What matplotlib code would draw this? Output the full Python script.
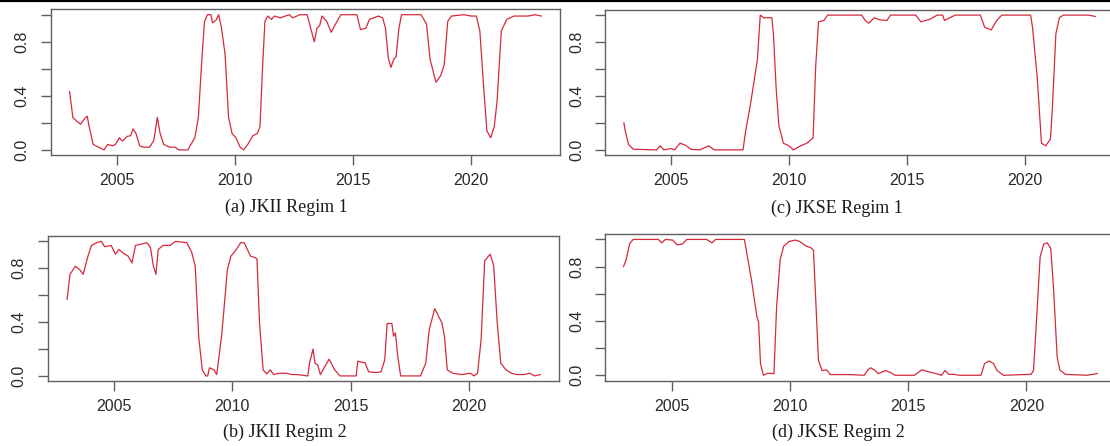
import matplotlib
matplotlib.use("Agg")
import matplotlib.pyplot as plt
from matplotlib.lines import Line2D

# ---------------- data ----------------
jkii_r1_year = [2003.0, 2003.14, 2003.32, 2003.47, 2003.63, 2003.75, 2003.82, 2004.0, 2004.23, 2004.46,
                2004.61, 2004.83, 2004.94, 2005.11, 2005.24, 2005.44, 2005.59, 2005.69, 2005.82, 2005.97,
                2006.12, 2006.39, 2006.57, 2006.72, 2006.84, 2006.99, 2007.25, 2007.48, 2007.63, 2008.01,
                2008.16, 2008.31, 2008.46, 2008.61, 2008.72, 2008.84, 2008.99, 2009.06, 2009.21, 2009.32,
                2009.44, 2009.59, 2009.74, 2009.89, 2010.05, 2010.23, 2010.38, 2010.57, 2010.77, 2010.95,
                2011.07, 2011.18, 2011.28, 2011.40, 2011.56, 2011.68, 2011.93, 2012.31, 2012.46, 2012.76,
                2013.07, 2013.22, 2013.37, 2013.49, 2013.60, 2013.70, 2013.90, 2014.09, 2014.27, 2014.50,
                2015.18, 2015.33, 2015.56, 2015.71, 2016.09, 2016.27, 2016.39, 2016.51, 2016.62, 2016.74,
                2016.84, 2016.96, 2017.07, 2017.90, 2018.13, 2018.28, 2018.53, 2018.73, 2018.88, 2019.03,
                2019.18, 2019.71, 2020.02, 2020.24, 2020.39, 2020.54, 2020.69, 2020.85, 2021.00, 2021.12,
                2021.30, 2021.53, 2021.83, 2022.43, 2022.73, 2022.99]
jkii_r1_prob = [0.43, 0.24, 0.21, 0.19, 0.23, 0.25, 0.18, 0.04, 0.02, 0.0,
                0.04, 0.03, 0.04, 0.09, 0.065, 0.10, 0.105, 0.155, 0.12, 0.03,
                0.02, 0.02, 0.07, 0.24, 0.12, 0.04, 0.02, 0.02, 0.0, 0.0,
                0.045, 0.09, 0.24, 0.68, 0.95, 1.0, 1.0, 0.94, 0.96, 1.0,
                0.90, 0.71, 0.24, 0.12, 0.09, 0.02, 0.0, 0.045, 0.105, 0.12,
                0.17, 0.61, 0.95, 0.99, 0.965, 0.99, 0.977, 1.0, 0.977, 1.0,
                1.0, 0.90, 0.80, 0.90, 0.92, 0.99, 0.95, 0.87, 0.93, 1.0,
                1.0, 0.89, 0.90, 0.965, 0.99, 0.977, 0.90, 0.68, 0.61, 0.67,
                0.69, 0.90, 1.0, 1.0, 0.93, 0.67, 0.50, 0.55, 0.63, 0.95,
                0.99, 1.0, 0.99, 0.99, 0.88, 0.49, 0.14, 0.09, 0.17, 0.36,
                0.88, 0.965, 0.99, 0.99, 1.0, 0.99]

jkii_r2_year = [2003.02, 2003.14, 2003.37, 2003.55, 2003.70, 2003.90, 2004.05, 2004.27, 2004.46, 2004.61,
                2004.88, 2005.06, 2005.21, 2005.41, 2005.60, 2005.76, 2005.91, 2006.16, 2006.39, 2006.54,
                2006.66, 2006.77, 2006.87, 2007.07, 2007.37, 2007.60, 2008.08, 2008.28, 2008.43, 2008.58,
                2008.73, 2008.88, 2008.96, 2009.03, 2009.23, 2009.34, 2009.44, 2009.56, 2009.79, 2009.94,
                2010.17, 2010.35, 2010.50, 2010.77, 2010.95, 2011.04, 2011.15, 2011.30, 2011.45, 2011.60,
                2011.75, 2011.98, 2012.28, 2012.51, 2012.73, 2013.19, 2013.26, 2013.41, 2013.49, 2013.61,
                2013.72, 2013.91, 2014.09, 2014.32, 2014.55, 2015.23, 2015.30, 2015.48, 2015.60, 2015.76,
                2016.06, 2016.28, 2016.44, 2016.54, 2016.74, 2016.81, 2016.89, 2016.99, 2017.11, 2017.95,
                2018.17, 2018.32, 2018.55, 2018.85, 2018.96, 2019.08, 2019.31, 2019.68, 2020.06, 2020.21,
                2020.36, 2020.51, 2020.66, 2020.89, 2021.04, 2021.19, 2021.34, 2021.56, 2021.79, 2022.02,
                2022.33, 2022.55, 2022.78, 2023.01]
jkii_r2_prob = [0.57, 0.755, 0.815, 0.79, 0.755, 0.89, 0.97, 0.99, 1.0, 0.96,
                0.97, 0.905, 0.94, 0.91, 0.89, 0.84, 0.97, 0.98, 0.99, 0.955,
                0.82, 0.755, 0.94, 0.97, 0.97, 1.0, 0.99, 0.92, 0.82, 0.29,
                0.045, 0.0, 0.0, 0.06, 0.045, 0.01, 0.145, 0.32, 0.79, 0.89,
                0.94, 0.99, 0.99, 0.89, 0.88, 0.87, 0.39, 0.045, 0.015, 0.045,
                0.01, 0.02, 0.02, 0.01, 0.01, 0.0, 0.095, 0.20, 0.095, 0.08,
                0.01, 0.07, 0.125, 0.045, 0.0, 0.0, 0.11, 0.10, 0.10, 0.03,
                0.025, 0.03, 0.12, 0.39, 0.39, 0.295, 0.32, 0.145, 0.0, 0.0,
                0.095, 0.345, 0.50, 0.395, 0.295, 0.045, 0.02, 0.01, 0.02, 0.0,
                0.02, 0.27, 0.855, 0.905, 0.82, 0.395, 0.095, 0.045, 0.02, 0.01,
                0.01, 0.02, 0.0, 0.01]

jkse_r1_year = [2003.0, 2003.06, 2003.20, 2003.40, 2004.39, 2004.54, 2004.70, 2005.00, 2005.15, 2005.38,
                2005.61, 2005.84, 2006.22, 2006.60, 2006.83, 2008.05, 2008.17, 2008.35, 2008.58, 2008.66,
                2008.78, 2008.93, 2009.27, 2009.34, 2009.45, 2009.57, 2009.76, 2010.00, 2010.18, 2010.49,
                2010.76, 2011.02, 2011.13, 2011.25, 2011.48, 2011.63, 2013.08, 2013.23, 2013.38, 2013.61,
                2013.84, 2014.15, 2014.30, 2015.37, 2015.59, 2015.98, 2016.28, 2016.51, 2016.59, 2016.81,
                2017.04, 2018.11, 2018.29, 2018.57, 2018.80, 2019.02, 2020.24, 2020.32, 2020.52, 2020.70,
                2020.88, 2021.08, 2021.16, 2021.31, 2021.46, 2021.62, 2022.68, 2022.99]
jkse_r1_prob = [0.20, 0.14, 0.04, 0.005, 0.0, 0.03, 0.0, 0.01, 0.0, 0.05,
                0.035, 0.005, 0.0, 0.03, 0.0, 0.0, 0.15, 0.32, 0.58, 0.67,
                1.0, 0.98, 0.98, 0.86, 0.47, 0.18, 0.05, 0.03, 0.0, 0.03,
                0.05, 0.09, 0.62, 0.95, 0.96, 1.0, 1.0, 0.96, 0.94, 0.98,
                0.965, 0.96, 1.0, 1.0, 0.95, 0.97, 1.0, 1.0, 0.96, 0.98,
                1.0, 1.0, 0.91, 0.89, 0.96, 1.0, 1.0, 0.91, 0.54, 0.05,
                0.03, 0.08, 0.30, 0.86, 0.98, 1.0, 1.0, 0.99]

jkse_r2_year = [2002.97, 2003.08, 2003.23, 2003.38, 2004.44, 2004.59, 2004.74, 2005.05, 2005.24, 2005.45,
                2005.65, 2006.48, 2006.71, 2006.86, 2008.08, 2008.18, 2008.38, 2008.61, 2008.68, 2008.76,
                2008.88, 2009.06, 2009.33, 2009.44, 2009.59, 2009.74, 2009.97, 2010.24, 2010.42, 2010.70,
                2010.88, 2011.00, 2011.11, 2011.21, 2011.36, 2011.56, 2011.71, 2012.55, 2013.15, 2013.30,
                2013.42, 2013.61, 2013.73, 2014.06, 2014.29, 2014.44, 2015.27, 2015.58, 2015.88, 2016.18,
                2016.41, 2016.56, 2016.71, 2016.94, 2017.17, 2018.08, 2018.23, 2018.42, 2018.61, 2018.76,
                2019.03, 2020.20, 2020.30, 2020.42, 2020.58, 2020.73, 2020.88, 2021.03, 2021.15, 2021.30,
                2021.41, 2021.64, 2022.55, 2023.00]
jkse_r2_prob = [0.80, 0.85, 0.97, 1.0, 1.0, 0.975, 1.0, 0.995, 0.96, 0.965,
                1.0, 1.0, 0.975, 1.0, 1.0, 0.90, 0.70, 0.43, 0.39, 0.086,
                0.0, 0.015, 0.012, 0.50, 0.85, 0.95, 0.985, 0.995, 0.985, 0.95,
                0.94, 0.92, 0.50, 0.11, 0.035, 0.04, 0.005, 0.005, 0.0, 0.04,
                0.055, 0.035, 0.012, 0.035, 0.017, 0.0, 0.0, 0.04, 0.025, 0.012,
                0.0, 0.035, 0.007, 0.007, 0.0, 0.0, 0.086, 0.105, 0.086, 0.035,
                0.0, 0.007, 0.035, 0.38, 0.87, 0.965, 0.975, 0.935, 0.63, 0.135,
                0.04, 0.007, 0.0, 0.012]

captions = ["(a) JKII Regim 1", "(b) JKII Regim 2", "(c) JKSE Regim 1", "(d) JKSE Regim 2"]
x_ticks = [2005, 2010, 2015, 2020]
y_ticks = [0.0, 0.2, 0.4, 0.6, 0.8, 1.0]
y_ticklabels = ["0.0", "", "0.4", "", "0.8", ""]

# ---------------- figure ----------------
W, H = 1110, 446
fig = plt.figure(figsize=(W / 100, H / 100), dpi=100)
fig.patch.set_facecolor("white")

def px_axes(left, top, right, bottom):
    return fig.add_axes([left / W, 1 - bottom / H, (right - left) / W, (bottom - top) / H])

panels = [
    (px_axes(50.7, 9.3, 560.3, 155.3), jkii_r1_year, jkii_r1_prob, captions[0], (286, 207)),
    (px_axes(47.7, 236.0, 559.0, 381.3), jkii_r2_year, jkii_r2_prob, captions[1], (285, 432)),
    (px_axes(605.0, 9.7, 1114.6, 155.3), jkse_r1_year, jkse_r1_prob, captions[2], (837, 208)),
    (px_axes(605.3, 234.0, 1116.3, 380.7), jkse_r2_year, jkse_r2_prob, captions[3], (838, 432)),
]

line_color = "#d42a3c"
axis_color = "#606060"
text_color = "#2a2a2a"

for ax, xs, ys, cap, (cx, cy) in panels:
    ax.plot(xs, ys, color=line_color, lw=0.9)
    ax.set_xlim(2002.2, 2023.8)
    ax.set_ylim(-0.04, 1.04)
    ax.set_xticks(x_ticks)
    ax.set_xticklabels([str(t) for t in x_ticks])
    ax.set_yticks(y_ticks)
    ax.set_yticklabels(y_ticklabels, rotation=90, va="center")
    for sp in ax.spines.values():
        sp.set_color(axis_color)
        sp.set_linewidth(1.0)
    ax.tick_params(axis="both", length=7, width=1.0, color=axis_color,
                   labelcolor=text_color, labelsize=11.5)
    ax.tick_params(axis="x", pad=6)
    ax.tick_params(axis="y", pad=8)
    for lab in ax.get_xticklabels() + ax.get_yticklabels():
        lab.set_family(["Liberation Sans", "DejaVu Sans"])
    fig.text(cx / W, 1 - cy / H, cap, ha="center", va="center",
             family=["Liberation Serif", "DejaVu Serif"], fontsize=13, color="#1a1a1a")

# thin black rule across the top edge of the picture
fig.add_artist(Line2D([0, 1], [1 - 1.0 / H, 1 - 1.0 / H], transform=fig.transFigure,
                      color="black", lw=1.6))

fig.savefig("out.png", dpi=100, facecolor="white")
